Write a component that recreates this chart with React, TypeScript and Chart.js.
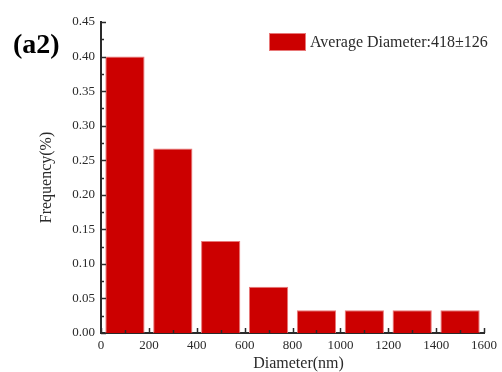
import React, { useEffect, useRef } from "react";
import { Chart, registerables } from "chart.js";

Chart.register(...registerables);

const binCenters = [100, 300, 500, 700, 900, 1100, 1300, 1500];
const frequency = [0.4, 0.267, 0.133, 0.067, 0.033, 0.033, 0.033, 0.033];
const seriesLabel = "Average Diameter:418±126";
const panelLabel = "(a2)";
const xTitle = "Diameter(nm)";
const yTitle = "Frequency(%)";

const FONT = "'Liberation Serif', 'Times New Roman', serif";
const AXIS = "#2a2a2a";

const ticksPlugin = {
  id: "innerTicks",
  afterDatasetsDraw(chart: any) {
    const ctx = chart.ctx;
    const x = chart.scales.x;
    const y = chart.scales.y;
    const area = chart.chartArea;
    ctx.save();
    ctx.strokeStyle = AXIS;
    ctx.lineWidth = 1.5;
    for (let v = 0; v <= 1600; v += 100) {
      const px = Math.round(x.getPixelForValue(v)) + 0.5;
      const len = v % 200 === 0 ? 5 : 3;
      ctx.beginPath();
      ctx.moveTo(px, area.bottom);
      ctx.lineTo(px, area.bottom - len);
      ctx.stroke();
    }
    for (let i = 0; i <= 18; i++) {
      const v = i * 0.025;
      const py = Math.round(y.getPixelForValue(v)) + 0.5;
      const len = i % 2 === 0 ? 5 : 3;
      ctx.beginPath();
      ctx.moveTo(area.left, py);
      ctx.lineTo(area.left + len, py);
      ctx.stroke();
    }
    ctx.restore();
  },
};

const legendPlugin = {
  id: "innerLegend",
  afterDraw(chart: any) {
    const ctx = chart.ctx;
    const area = chart.chartArea;
    const ds = chart.data.datasets[0];
    const bx = area.left + 168;
    const by = area.top + 11;
    ctx.save();
    ctx.fillStyle = ds.backgroundColor;
    ctx.fillRect(bx, by, 37, 18);
    ctx.strokeStyle = ds.borderColor;
    ctx.lineWidth = 1;
    ctx.strokeRect(bx + 0.5, by + 0.5, 36, 17);
    ctx.fillStyle = AXIS;
    ctx.font = `16px ${FONT}`;
    ctx.textBaseline = "middle";
    ctx.textAlign = "left";
    ctx.fillText(ds.label, bx + 41, by + 9.5);
    // x axis title
    ctx.textAlign = "center";
    ctx.fillText(xTitle, (area.left + area.right) / 2 + 6, area.bottom + 31);
    // panel label
    ctx.textAlign = "left";
    ctx.fillStyle = "#000000";
    ctx.font = `bold 28px ${FONT}`;
    ctx.textBaseline = "alphabetic";
    ctx.fillText(panelLabel, 13, 53);
    ctx.restore();
  },
};

export default function App() {
  const ref = useRef<HTMLCanvasElement | null>(null);
  useEffect(() => {
    if (!ref.current) return;
    const chart = new Chart(ref.current, {
      type: "bar",
      data: {
        datasets: [
          {
            label: seriesLabel,
            data: binCenters.map((c, i) => ({ x: c, y: frequency[i] })),
            backgroundColor: "#CC0000",
            borderColor: "#E87878",
            borderWidth: 1,
            barPercentage: 0.82,
            categoryPercentage: 1,
          } as any,
        ],
      },
      options: {
        animation: false,
        responsive: true,
        maintainAspectRatio: false,
        layout: { padding: { left: 0, top: 22, right: 14, bottom: 0 } },
        plugins: {
          legend: { display: false },
          tooltip: { enabled: false },
        },
        scales: {
          x: {
            type: "linear",
            min: 0,
            max: 1600,
            offset: false,
            grid: { display: false, offset: false, drawTicks: false },
            border: { display: true, color: AXIS, width: 2 },
            ticks: {
              stepSize: 200,
              padding: 5,
              color: AXIS,
              font: { family: FONT, size: 13 },
              maxRotation: 0,
              callback: (v: any) => String(v),
            },
            title: { display: false, text: xTitle },
            afterFit: (s: any) => {
              s.height = 39;
            },
          },
          y: {
            type: "linear",
            min: 0,
            max: 0.45,
            grid: { display: false, drawTicks: false },
            border: { display: true, color: AXIS, width: 2 },
            ticks: {
              stepSize: 0.05,
              padding: 6,
              color: AXIS,
              font: { family: FONT, size: 13 },
              callback: (v: any) => Number(v).toFixed(2),
            },
            title: {
              display: true,
              text: yTitle,
              color: AXIS,
              font: { family: FONT, size: 16 },
              padding: { top: 37, bottom: 0 },
            },
            afterFit: (s: any) => {
              s.width = 101;
            },
          },
        },
      },
      plugins: [ticksPlugin, legendPlugin],
    });
    return () => chart.destroy();
  }, []);
  return (
    <div style={{ position: "fixed", left: 0, top: 0, width: 502, height: 372, background: "#fff" }}>
      <canvas ref={ref} />
    </div>
  );
}
